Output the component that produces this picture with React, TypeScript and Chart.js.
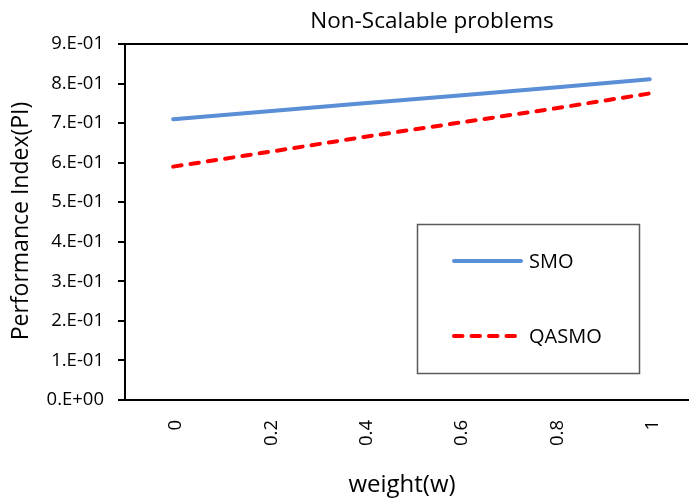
import { useEffect, useRef } from 'react';
import { Chart, registerables } from 'chart.js';

Chart.register(...registerables);

const chartTitle = 'Non-Scalable problems';
const xAxisTitle = 'weight(w)';
const yAxisTitle = 'Performance Index(PI)';

const weights = [0, 0.2, 0.4, 0.6, 0.8, 1];
const xTickLabels = ['0', '0.2', '0.4', '0.6', '0.8', '1'];
const yTickLabels = ['0.E+00', '1.E-01', '2.E-01', '3.E-01', '4.E-01', '5.E-01', '6.E-01', '7.E-01', '8.E-01', '9.E-01'];

const seriesNames = ['SMO', 'QASMO'];
const smoValues = [0.71, 0.73, 0.75, 0.77, 0.79, 0.811];
const qasmoValues = [0.59, 0.627, 0.665, 0.701, 0.737, 0.775];

const FONT = '"Open Sans", "Noto Sans", sans-serif';

const decorPlugin = {
  id: 'decor',
  afterDraw(chart: any) {
    const { ctx, chartArea } = chart;
    ctx.save();
    // top frame line of plot area
    ctx.strokeStyle = '#000';
    ctx.lineWidth = 2;
    ctx.beginPath();
    ctx.moveTo(chartArea.left, chartArea.top);
    ctx.lineTo(chartArea.right, chartArea.top);
    ctx.stroke();

    ctx.fillStyle = '#000';
    ctx.textAlign = 'center';
    ctx.textBaseline = 'alphabetic';
    ctx.font = `22.5px ${FONT}`;
    ctx.fillText(chartTitle, 432, 28);

    ctx.font = `24px ${FONT}`;
    ctx.fillText(xAxisTitle, 402, 492);

    ctx.save();
    ctx.translate(28, 221);
    ctx.rotate(-Math.PI / 2);
    ctx.font = `23px ${FONT}`;
    ctx.fillText(yAxisTitle, 0, 0);
    ctx.restore();

    // legend
    ctx.fillStyle = '#fff';
    ctx.fillRect(417.5, 224.5, 222, 149);
    ctx.strokeStyle = '#5a5a5a';
    ctx.lineWidth = 1.5;
    ctx.strokeRect(417.5, 224.5, 222, 149);

    const rows = [261, 336];
    chart.data.datasets.forEach((ds: any, i: number) => {
      const y = rows[i];
      ctx.save();
      ctx.strokeStyle = ds.borderColor;
      ctx.lineWidth = ds.borderWidth;
      ctx.lineCap = 'round';
      ctx.setLineDash(ds.borderDash || []);
      ctx.beginPath();
      ctx.moveTo(454, y);
      ctx.lineTo(ds.borderDash ? 515 : 521, y);
      ctx.stroke();
      ctx.restore();
      ctx.fillStyle = '#000';
      ctx.font = `20px ${FONT}`;
      ctx.textAlign = 'left';
      ctx.textBaseline = 'middle';
      ctx.fillText(ds.label, 529, y + 1);
    });
    ctx.restore();
  },
};

export default function App() {
  const ref = useRef<HTMLCanvasElement>(null);
  useEffect(() => {
    document.body.style.margin = '0';
    const chart = new Chart(ref.current as HTMLCanvasElement, {
      type: 'line',
      data: {
        datasets: [
          {
            label: seriesNames[0],
            data: weights.map((x, i) => ({ x, y: smoValues[i] })),
            borderColor: '#5A8ED6',
            borderWidth: 4,
            borderCapStyle: 'round',
            pointRadius: 0,
            fill: false,
            tension: 0,
          },
          {
            label: seriesNames[1],
            data: weights.map((x, i) => ({ x, y: qasmoValues[i] })),
            borderColor: '#FF0000',
            borderWidth: 4,
            borderDash: [8.5, 9],
            borderCapStyle: 'round',
            pointRadius: 0,
            fill: false,
            tension: 0,
          },
        ],
      } as any,
      options: {
        responsive: false,
        animation: false,
        layout: { padding: { top: 44, left: 0, right: 0, bottom: 0 } },
        plugins: {
          legend: { display: false },
          title: { display: false },
          tooltip: { enabled: false },
        },
        scales: {
          x: {
            type: 'linear',
            min: -0.10104,
            max: 1.0802,
            grid: { display: false, drawTicks: false },
            border: { display: true, color: '#000', width: 2 },
            ticks: {
              autoSkip: false,
              minRotation: 90,
              maxRotation: 90,
              padding: 20,
              labelOffset: 3,
              color: '#000',
              font: { family: FONT, size: 18.5 },
              callback: (_v: any, i: number) => xTickLabels[i],
            },
            afterBuildTicks: (s: any) => {
              s.ticks = weights.map((v) => ({ value: v }));
            },
            afterFit: (s: any) => {
              s.height = 103;
            },
          },
          y: {
            min: 0,
            max: 0.9,
            grid: { drawOnChartArea: false, drawTicks: true, tickLength: 7, color: '#000', lineWidth: 2 },
            border: { display: true, color: '#000', width: 2 },
            ticks: {
              stepSize: 0.1,
              padding: 14,
              color: '#000',
              font: { family: FONT, size: 18.5 },
              callback: (_v: any, i: number) => yTickLabels[i],
            },
            afterFit: (s: any) => {
              s.width = 125;
            },
          },
        },
      } as any,
      plugins: [decorPlugin],
    });
    return () => chart.destroy();
  }, []);
  return (
    <div style={{ width: 692, height: 503 }}>
      <canvas ref={ref} width={692} height={503} style={{ display: 'block' }} />
    </div>
  );
}
